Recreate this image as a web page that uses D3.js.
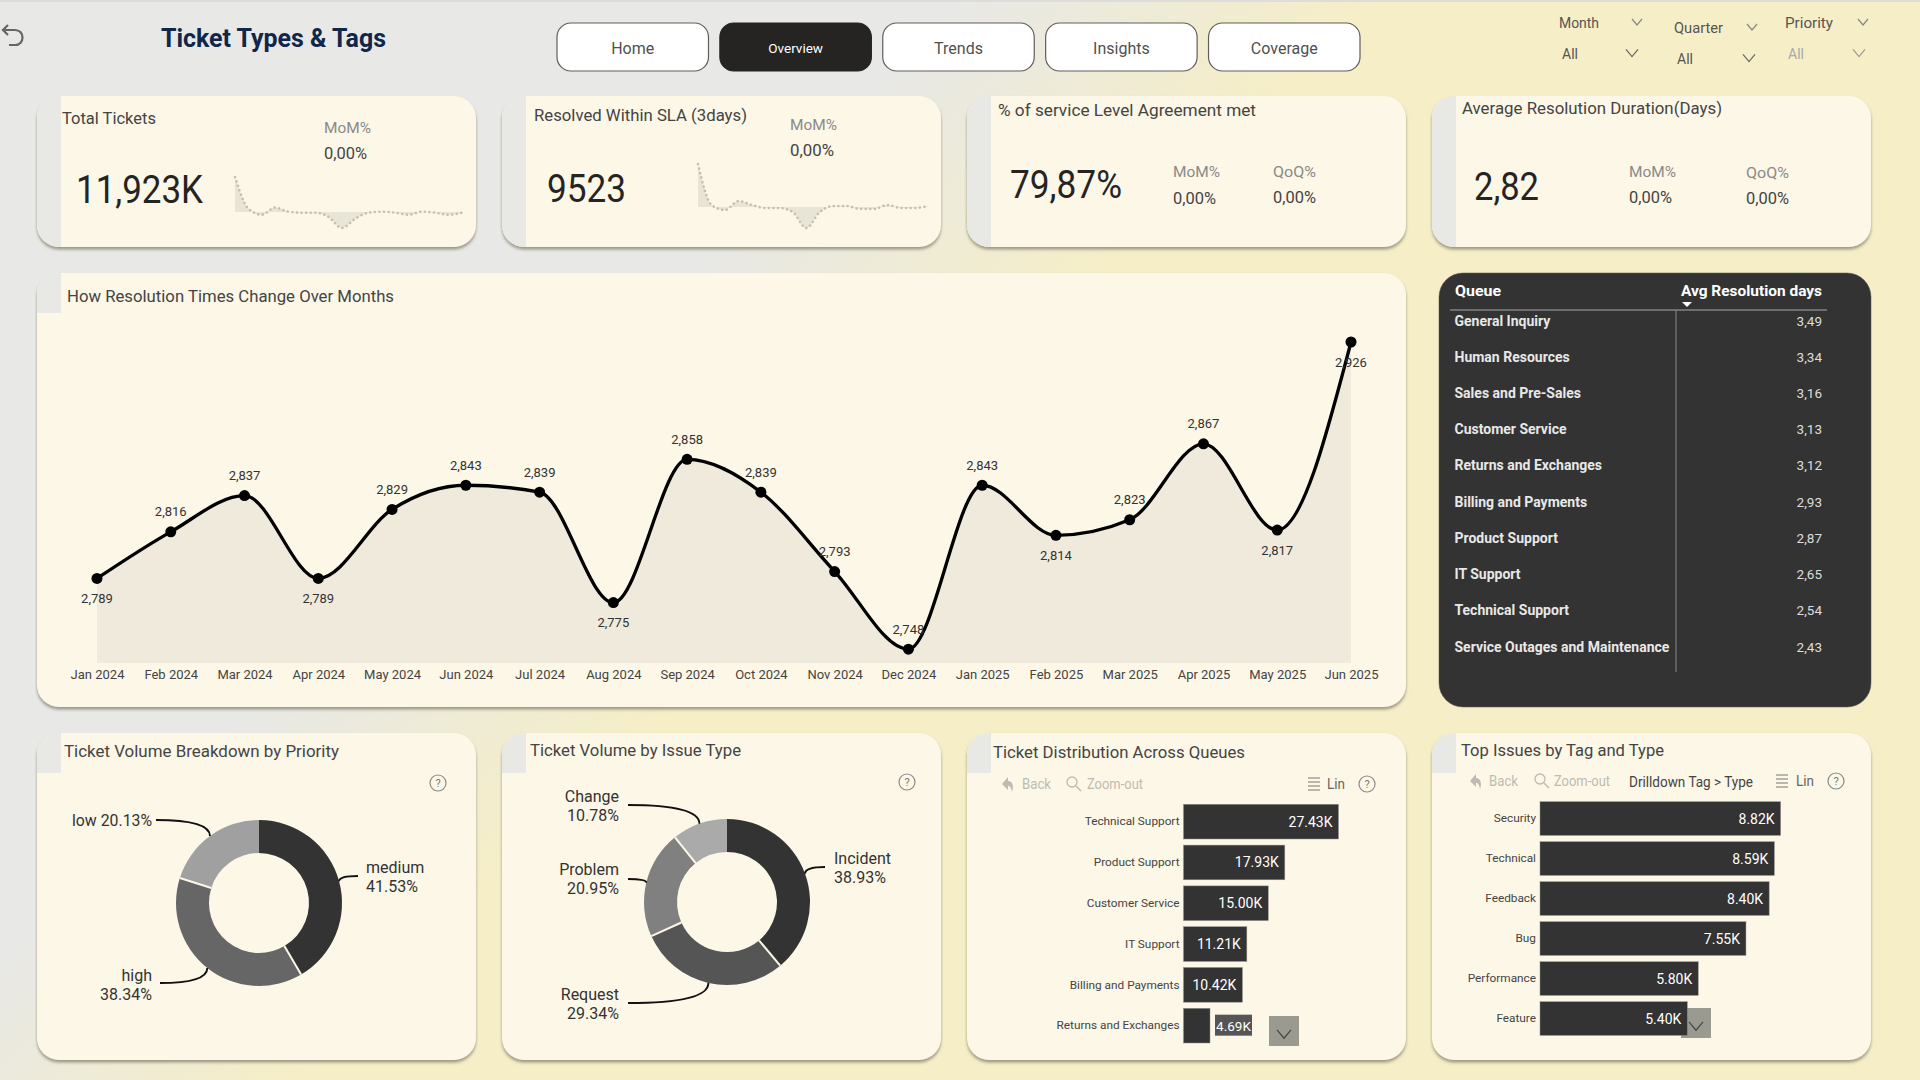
<!DOCTYPE html>
<html>
<head>
<meta charset="utf-8">
<script src="https://cdn.jsdelivr.net/npm/d3@7"></script>
<style>
  html, body { margin: 0; padding: 0; }
  body {
    width: 1920px; height: 1080px; overflow: hidden;
    background: linear-gradient(135deg, #e8e8e6 32%, #f5eec6 46%);
    font-family: Roboto, sans-serif;
  }
  svg { display: block; }
  text { font-family: Roboto, sans-serif; }
</style>
</head>
<body>
<svg id="page" width="1920" height="1080"></svg>
<script>
// Line chart
const months = ["Jan 2024", "Feb 2024", "Mar 2024", "Apr 2024", "May 2024", "Jun 2024", "Jul 2024", "Aug 2024", "Sep 2024",
  "Oct 2024", "Nov 2024", "Dec 2024", "Jan 2025", "Feb 2025", "Mar 2025", "Apr 2025", "May 2025", "Jun 2025"];
const avgResolution = [2.789, 2.816, 2.837, 2.789, 2.829, 2.843, 2.839, 2.775, 2.858,
  2.839, 2.793, 2.748, 2.843, 2.814, 2.823, 2.867, 2.817, 2.926];

// KPI sparklines (no axis in the picture, estimated relative to their zero line)
const ticketSpark = [35, 4, -2, 5, 1, 0, 0, -4, -15, -6, 0, 1, 0, -2, 1, 0, -2, 0];
const slaSpark = [43, 2, -3, 6, 2, -1, -1, -5, -21, -5, 1, 1, -2, -2, 2, -1, -1, 1];

// Table
const queueNames = ["General Inquiry", "Human Resources", "Sales and Pre-Sales", "Customer Service", "Returns and Exchanges",
  "Billing and Payments", "Product Support", "IT Support", "Technical Support", "Service Outages and Maintenance"];
const queueDays = [3.49, 3.34, 3.16, 3.13, 3.12, 2.93, 2.87, 2.65, 2.54, 2.43];

// Donuts
const priorities = ["medium", "high", "low"];
const priorityShare = [41.53, 38.34, 20.13];
const issueTypes = ["Incident", "Request", "Problem", "Change"];
const issueShare = [38.93, 29.34, 20.95, 10.78];

// Bars (thousands)
const barQueues = ["Technical Support", "Product Support", "Customer Service", "IT Support", "Billing and Payments", "Returns and Exchanges"];
const barQueueCounts = [27.43, 17.93, 15.00, 11.21, 10.42, 4.69];
const tags = ["Security", "Technical", "Feedback", "Bug", "Performance", "Feature"];
const tagCounts = [8.82, 8.59, 8.40, 7.55, 5.80, 5.40];

const navPages = ["Home", "Overview", "Trends", "Insights", "Coverage"];

const cream = "#fdf7e7";
const stripGray = "#e8e8e5";
const darkBar = "#333333";
const commaNum = (fmt) => (v) => d3.format(fmt)(v).replace(".", ",");

const svg = d3.select("#page");
const defs = svg.append("defs");

// Tight shadow under the cards
const shadow = defs.append("filter").attr("id", "shadow")
  .attr("x", "-5%").attr("y", "-5%").attr("width", "110%").attr("height", "115%");
shadow.append("feDropShadow").attr("dx", 0).attr("dy", 2.5).attr("stdDeviation", 1.6)
  .attr("flood-color", "#86836f").attr("flood-opacity", 0.8);

// Helper for all text on the page
function label(parent, str, x, y, opts = {}) {
  const t = parent.append("text")
    .attr("x", x).attr("y", y)
    .attr("dominant-baseline", "central")
    .attr("text-anchor", opts.anchor || "start")
    .attr("font-size", opts.size || 14)
    .attr("font-weight", opts.weight || 400)
    .attr("fill", opts.fill || "#3d3d3d")
    .text(str);
  if (opts.width) t.attr("textLength", opts.width).attr("lengthAdjust", "spacingAndGlyphs");
  return t;
}

function chevron(parent, x, y, size, color) {
  parent.append("path")
    .attr("d", `M${x - size},${y - size * 0.6} L${x},${y + size * 0.6} L${x + size},${y - size * 0.6}`)
    .attr("fill", "none").attr("stroke", color).attr("stroke-width", 1.2);
}

// Card with the gray strip on the left, full height or only behind the title
let cardId = 0;
function card(x, y, w, h, stripH) {
  const id = "card" + cardId++;
  defs.append("clipPath").attr("id", id).append("rect")
    .attr("x", x).attr("y", y).attr("width", w).attr("height", h).attr("rx", 22);
  svg.append("rect").attr("x", x).attr("y", y).attr("width", w).attr("height", h).attr("rx", 22)
    .attr("fill", cream).attr("filter", "url(#shadow)");
  svg.append("rect").attr("x", x).attr("y", y).attr("width", 24).attr("height", stripH)
    .attr("fill", stripGray).attr("clip-path", `url(#${id})`);
}

// ---- Header ----
svg.append("rect").attr("width", 1920).attr("height", 2).attr("fill", "#dcdcda");
svg.append("path")
  .attr("d", "M8,25 L3,30 L8,35 M3,30 L15,30 C25,30 25,45 15,45 L9,45")
  .attr("fill", "none").attr("stroke", "#666").attr("stroke-width", 2.2);
label(svg, "Ticket Types & Tags", 161, 38, { size: 26, weight: 700, fill: "#10264a", width: 225 });

const navX = d3.scaleBand().domain(navPages).range([557, 1360]).paddingInner(0.07);
const nav = svg.selectAll(".nav").data(navPages).join("g").attr("class", "nav");
nav.append("rect")
  .attr("x", (d) => navX(d)).attr("y", 23).attr("width", navX.bandwidth()).attr("height", 48).attr("rx", 14)
  .attr("fill", (d) => d === "Overview" ? "#252423" : "#ffffff")
  .attr("stroke", (d) => d === "Overview" ? "#252423" : "#605e5c").attr("stroke-width", 1.2);
nav.append("text")
  .attr("x", (d) => navX(d) + navX.bandwidth() / 2).attr("y", 48)
  .attr("text-anchor", "middle").attr("dominant-baseline", "central")
  .attr("font-size", (d) => d === "Overview" ? 13.5 : 16)
  .attr("fill", (d) => d === "Overview" ? "#ffffff" : "#505050")
  .text((d) => d);

// Slicers
[
  { name: "Month", x: 1559, y: 23, cx: 1637, allX: 1562, allY: 54, acx: 1632, fill: "#555" },
  { name: "Quarter", x: 1674, y: 28, cx: 1752, allX: 1677, allY: 59, acx: 1749, fill: "#555" },
  { name: "Priority", x: 1785, y: 23, cx: 1863, allX: 1788, allY: 54, acx: 1859, fill: "#aaa" }
].forEach((s) => {
  label(svg, s.name, s.x, s.y, { size: 14.5, fill: "#555", width: s.name === "Month" ? 40 : s.name === "Quarter" ? 49 : 48 });
  chevron(svg, s.cx, s.y - 1, 5, "#888");
  label(svg, "All", s.allX, s.allY, { size: 14, fill: s.fill });
  chevron(svg, s.acx, s.allY - 1, 6, s.fill === "#aaa" ? "#999" : "#666");
});

// ---- KPI cards ----
[37, 502, 967, 1432].forEach((x) => card(x, 96, 439, 151, 151));

function sparkline(values, x0, x1, zeroY, topY, bottomY) {
  const sx = d3.scaleLinear().domain([0, values.length - 1]).range([x0, x1]);
  const sy = d3.scaleLinear().domain([d3.min(values), d3.max(values)]).range([bottomY, topY]);
  const area = d3.area().x((d, i) => sx(i)).y0(zeroY).y1((d) => sy(d)).curve(d3.curveMonotoneX);
  const line = d3.line().x((d, i) => sx(i)).y((d) => sy(d)).curve(d3.curveMonotoneX);
  svg.append("path").attr("d", area(values)).attr("fill", "#e9e5d6");
  svg.append("path").attr("d", line(values)).attr("fill", "none").attr("stroke", "#c4c1b2")
    .attr("stroke-width", 2.6).attr("stroke-linecap", "round").attr("stroke-dasharray", "0.1 4.5");
}

const kpiTitle = { size: 17, fill: "#444" };
const kpiValue = { size: 38, fill: "#252423" };
const deltaHead = { size: 15.5, fill: "#8a8a8a" };
const deltaVal = { size: 16.5, fill: "#444" };

label(svg, "Total Tickets", 62, 118, { ...kpiTitle, width: 94 });
label(svg, "11,923K", 76, 190, { ...kpiValue, width: 127 });
label(svg, "MoM%", 324, 128, { ...deltaHead, width: 47 });
label(svg, "0,00%", 324, 153, { ...deltaVal, width: 43 });
sparkline(ticketSpark, 235, 462, 212, 177, 228);

label(svg, "Resolved Within SLA (3days)", 534, 115, { ...kpiTitle, width: 213 });
label(svg, "9523", 547, 189, { ...kpiValue, width: 79 });
label(svg, "MoM%", 790, 125, { ...deltaHead, width: 47 });
label(svg, "0,00%", 790, 150, { ...deltaVal, width: 44 });
sparkline(slaSpark, 698, 928, 207, 164, 228);

label(svg, "% of service Level Agreement met", 998, 110, { ...kpiTitle, width: 258 });
label(svg, "79,87%", 1010, 185, { ...kpiValue, width: 112 });
label(svg, "MoM%", 1173, 172, { ...deltaHead, width: 47 });
label(svg, "0,00%", 1173, 198, { ...deltaVal, width: 43 });
label(svg, "QoQ%", 1273, 172, { ...deltaHead, width: 43 });
label(svg, "0,00%", 1273, 197, { ...deltaVal, width: 43 });

label(svg, "Average Resolution Duration(Days)", 1462, 108, { ...kpiTitle, width: 260 });
label(svg, "2,82", 1474, 187, { ...kpiValue, width: 65 });
label(svg, "MoM%", 1629, 172, { ...deltaHead, width: 47 });
label(svg, "0,00%", 1629, 197, { ...deltaVal, width: 43 });
label(svg, "QoQ%", 1746, 173, { ...deltaHead, width: 43 });
label(svg, "0,00%", 1746, 198, { ...deltaVal, width: 43 });

// ---- Line chart ----
card(37, 273, 1369, 434, 40);
label(svg, "How Resolution Times Change Over Months", 67, 296, { size: 17, fill: "#444", width: 327 });

const x = d3.scalePoint().domain(months).range([97, 1351]);
const y = d3.scaleLinear().domain([2.74, 2.926]).range([663, 342]);
const smooth = d3.curveMonotoneX;

svg.append("path")
  .attr("d", d3.area().x((d, i) => x(months[i])).y0(y(2.74)).y1((d) => y(d)).curve(smooth)(avgResolution))
  .attr("fill", "#f0eadd");
svg.append("path")
  .attr("d", d3.line().x((d, i) => x(months[i])).y((d) => y(d)).curve(smooth)(avgResolution))
  .attr("fill", "none").attr("stroke", "#000").attr("stroke-width", 3.3);
svg.selectAll(".dot").data(avgResolution).join("circle").attr("class", "dot")
  .attr("cx", (d, i) => x(months[i])).attr("cy", (d) => y(d)).attr("r", 5.5).attr("fill", "#000");

// Labels under the point for these months, above for the rest
const labelBelow = ["Jan 2024", "Apr 2024", "Aug 2024", "Feb 2025", "May 2025", "Jun 2025"];
svg.selectAll(".val").data(avgResolution).join("text").attr("class", "val")
  .attr("x", (d, i) => x(months[i]))
  .attr("y", (d, i) => y(d) + (labelBelow.includes(months[i]) ? 20 : -20))
  .attr("text-anchor", "middle").attr("dominant-baseline", "central")
  .attr("font-size", 13).attr("fill", "#333")
  .text(commaNum(".3f"));

const xAxis = svg.append("g").attr("transform", "translate(0,663)")
  .call(d3.axisBottom(x).tickSize(0).tickPadding(7));
xAxis.select(".domain").remove();
xAxis.selectAll("text").attr("font-size", 13).attr("fill", "#444").attr("font-family", "Roboto, sans-serif");

// ---- Table ----
svg.append("rect").attr("x", 1439).attr("y", 273).attr("width", 432).attr("height", 434).attr("rx", 24)
  .attr("fill", "#333333").attr("stroke", "#555").attr("stroke-width", 0.5);
label(svg, "Queue", 1455, 291, { size: 15.5, weight: 700, fill: "#fff", width: 46 });
label(svg, "Avg Resolution days", 1681, 291, { size: 15.5, weight: 700, fill: "#fff", width: 141 });
svg.append("path").attr("d", "M1682,302 L1692,302 L1687,307 Z").attr("fill", "#fff");
svg.append("line").attr("x1", 1450).attr("x2", 1827).attr("y1", 310).attr("y2", 310).attr("stroke", "#aaa");
svg.append("line").attr("x1", 1676).attr("x2", 1676).attr("y1", 310).attr("y2", 672).attr("stroke", "#888");

const rowY = d3.scalePoint().domain(queueNames).range([320.5, 646.5]);
svg.selectAll(".qname").data(queueNames).join("text").attr("class", "qname")
  .attr("x", 1454.5).attr("y", (d) => rowY(d)).attr("dominant-baseline", "central")
  .attr("font-size", 14).attr("font-weight", 700).attr("fill", "#e8e8e8").text((d) => d);
svg.selectAll(".qval").data(queueDays).join("text").attr("class", "qval")
  .attr("x", 1822).attr("y", (d, i) => rowY(queueNames[i])).attr("text-anchor", "end")
  .attr("dominant-baseline", "central").attr("font-size", 13.5).attr("fill", "#dddddd")
  .text(commaNum(".2f"));

// ---- Donuts ----
function helpIcon(cx, cy) {
  svg.append("circle").attr("cx", cx).attr("cy", cy).attr("r", 8)
    .attr("fill", "none").attr("stroke", "#8a8a8a").attr("stroke-width", 1.2);
  label(svg, "?", cx, cy, { size: 11, anchor: "middle", fill: "#777" });
}

function donut(cx, cy, names, shares, colors, callouts) {
  const arcs = d3.pie().sort(null)(shares);
  const outer = 83, inner = 50;
  const g = svg.append("g").attr("transform", `translate(${cx},${cy})`);
  g.selectAll("path").data(arcs).join("path")
    .attr("d", d3.arc().innerRadius(inner).outerRadius(outer))
    .attr("fill", (d, i) => colors[i]);
  // Separators between slices, none at twelve o'clock
  g.selectAll("line").data(arcs.slice(1)).join("line")
    .attr("x1", (d) => inner * Math.sin(d.startAngle)).attr("y1", (d) => -inner * Math.cos(d.startAngle))
    .attr("x2", (d) => outer * Math.sin(d.startAngle)).attr("y2", (d) => -outer * Math.cos(d.startAngle))
    .attr("stroke", cream).attr("stroke-width", 2);

  arcs.forEach((a, i) => {
    const mid = (a.startAngle + a.endAngle) / 2;
    const sx = cx + outer * Math.sin(mid), sy = cy - outer * Math.cos(mid);
    const c = callouts[i];
    const p = d3.path();
    p.moveTo(sx, sy);
    p.quadraticCurveTo(sx, c.ly, c.lx, c.ly);
    svg.append("path").attr("d", p.toString()).attr("fill", "none").attr("stroke", "#111").attr("stroke-width", 1.9);
    const pct = d3.format(".2f")(shares[i]) + "%";
    if (c.inline) {
      label(svg, `${names[i]} ${pct}`, c.tx, c.ty, { size: 16.5, anchor: c.anchor, fill: "#333", width: 80 });
    } else {
      label(svg, names[i], c.tx, c.ty, { size: 16, anchor: c.anchor, fill: "#333" });
      label(svg, pct, c.tx, c.ty + 19, { size: 16, anchor: c.anchor, fill: "#333" });
    }
  });
}

card(37, 733, 439, 327, 40);
label(svg, "Ticket Volume Breakdown by Priority", 64, 751, { size: 17, fill: "#444", width: 275 });
helpIcon(438, 783);
donut(259, 903, priorities, priorityShare, ["#333333", "#666666", "#a0a0a0"], [
  { tx: 366, ty: 867, anchor: "start", lx: 358, ly: 876 },
  { tx: 152, ty: 975, anchor: "end", lx: 160, ly: 983 },
  { tx: 152, ty: 820, anchor: "end", lx: 156, ly: 820, inline: true }
]);

card(502, 733, 439, 327, 40);
label(svg, "Ticket Volume by Issue Type", 530, 750, { size: 17, fill: "#444", width: 211 });
helpIcon(907, 782);
donut(727, 902, issueTypes, issueShare, ["#333333", "#555555", "#808080", "#aaaaaa"], [
  { tx: 834, ty: 858, anchor: "start", lx: 825, ly: 867 },
  { tx: 619, ty: 994, anchor: "end", lx: 628, ly: 1003 },
  { tx: 619, ty: 869, anchor: "end", lx: 628, ly: 879 },
  { tx: 619, ty: 796, anchor: "end", lx: 628, ly: 805 }
]);

// ---- Bar charts ----
function barChart(names, values, x0, pxPerK, top, bottom, pad) {
  const sx = d3.scaleLinear().domain([0, 1]).range([x0, x0 + pxPerK]);
  const sy = d3.scaleBand().domain(names).range([top, bottom]).paddingInner(pad);
  const axis = svg.append("g").attr("transform", `translate(${x0 - 4},0)`)
    .call(d3.axisLeft(sy).tickSize(0).tickPadding(0));
  axis.select(".domain").remove();
  axis.selectAll("text").attr("font-size", 11.8).attr("fill", "#444").attr("font-family", "Roboto, sans-serif");
  svg.selectAll(null).data(values).join("rect")
    .attr("x", x0).attr("y", (d, i) => sy(names[i]))
    .attr("width", (d) => sx(d) - x0).attr("height", sy.bandwidth())
    .attr("fill", darkBar).attr("stroke", "#8f8d85").attr("stroke-width", 0.5);
  return { sx, sy };
}

function toolbar(backX, backTextX, zoomX, zoomTextX, listX, linX, helpX, yy) {
  const faded = "#bdbbb2";
  svg.append("path").attr("d", `M${backX - 6},${yy} L${backX},${yy - 7} L${backX},${yy - 3} C${backX + 5},${yy - 3} ${backX + 6},${yy + 3} ${backX + 4},${yy + 8} C${backX + 3},${yy + 3} ${backX + 2},${yy + 2} ${backX},${yy + 2} L${backX},${yy + 6} Z`)
    .attr("fill", faded);
  label(svg, "Back", backTextX, yy, { size: 14, fill: faded, width: 29 });
  svg.append("circle").attr("cx", zoomX).attr("cy", yy - 2).attr("r", 5).attr("fill", "none").attr("stroke", faded).attr("stroke-width", 1.3);
  svg.append("line").attr("x1", zoomX + 4).attr("y1", yy + 2).attr("x2", zoomX + 9).attr("y2", yy + 7).attr("stroke", faded).attr("stroke-width", 1.5);
  label(svg, "Zoom-out", zoomTextX, yy, { size: 14, fill: faded, width: 56 });
  [-6, -2, 2, 6].forEach((dy) => {
    svg.append("line").attr("x1", listX - 6).attr("x2", listX + 6).attr("y1", yy + dy).attr("y2", yy + dy).attr("stroke", "#777").attr("stroke-width", 1);
  });
  label(svg, "Lin", linX, yy, { size: 14, fill: "#666", width: 18 });
  helpIcon(helpX, yy);
}

function scrollBox(xx, yy) {
  svg.append("rect").attr("x", xx).attr("y", yy).attr("width", 30).attr("height", 30).attr("fill", "#9b9a90");
  chevron(svg, xx + 15, yy + 18, 7, "#444");
}

card(967, 733, 439, 327, 40);
label(svg, "Ticket Distribution Across Queues", 993, 752, { size: 17, fill: "#444", width: 252 });
toolbar(1008, 1022, 1072, 1087, 1314, 1327, 1367, 784);
scrollBox(1269, 1016);
const queueChart = barChart(barQueues, barQueueCounts, 1183.5, 5.65, 804.3, 1043, 0.15);
barQueueCounts.forEach((v, i) => {
  const yy = queueChart.sy(barQueues[i]) + queueChart.sy.bandwidth() / 2;
  const text = d3.format(".2f")(v) + "K";
  if (queueChart.sx(v) - queueChart.sx(0) > 45) {
    label(svg, text, queueChart.sx(v) - 6, yy, { size: 14, anchor: "end", fill: "#fff" });
  } else {
    // Too short for the label, so it sits in a box next to the bar
    svg.append("rect").attr("x", queueChart.sx(v) + 5).attr("y", yy - 11).attr("width", 37).attr("height", 21).attr("fill", "#555");
    label(svg, text, queueChart.sx(v) + 23.5, yy, { size: 13.5, anchor: "middle", fill: "#fff" });
  }
});

card(1432, 733, 439, 327, 40);
label(svg, "Top Issues by Tag and Type", 1461, 750, { size: 17, fill: "#444", width: 203 });
toolbar(1476, 1489, 1540, 1554, 1782, 1796, 1836, 781);
label(svg, "Drilldown Tag > Type", 1629, 782, { size: 14, fill: "#444", width: 124 });
scrollBox(1681, 1008);
const tagChart = barChart(tags, tagCounts, 1540, 27.28, 801.7, 1035.4, 0.158);
tagCounts.forEach((v, i) => {
  label(svg, d3.format(".2f")(v) + "K", tagChart.sx(v) - 6, tagChart.sy(tags[i]) + tagChart.sy.bandwidth() / 2,
    { size: 14, anchor: "end", fill: "#fff" });
});
</script>
</body>
</html>
